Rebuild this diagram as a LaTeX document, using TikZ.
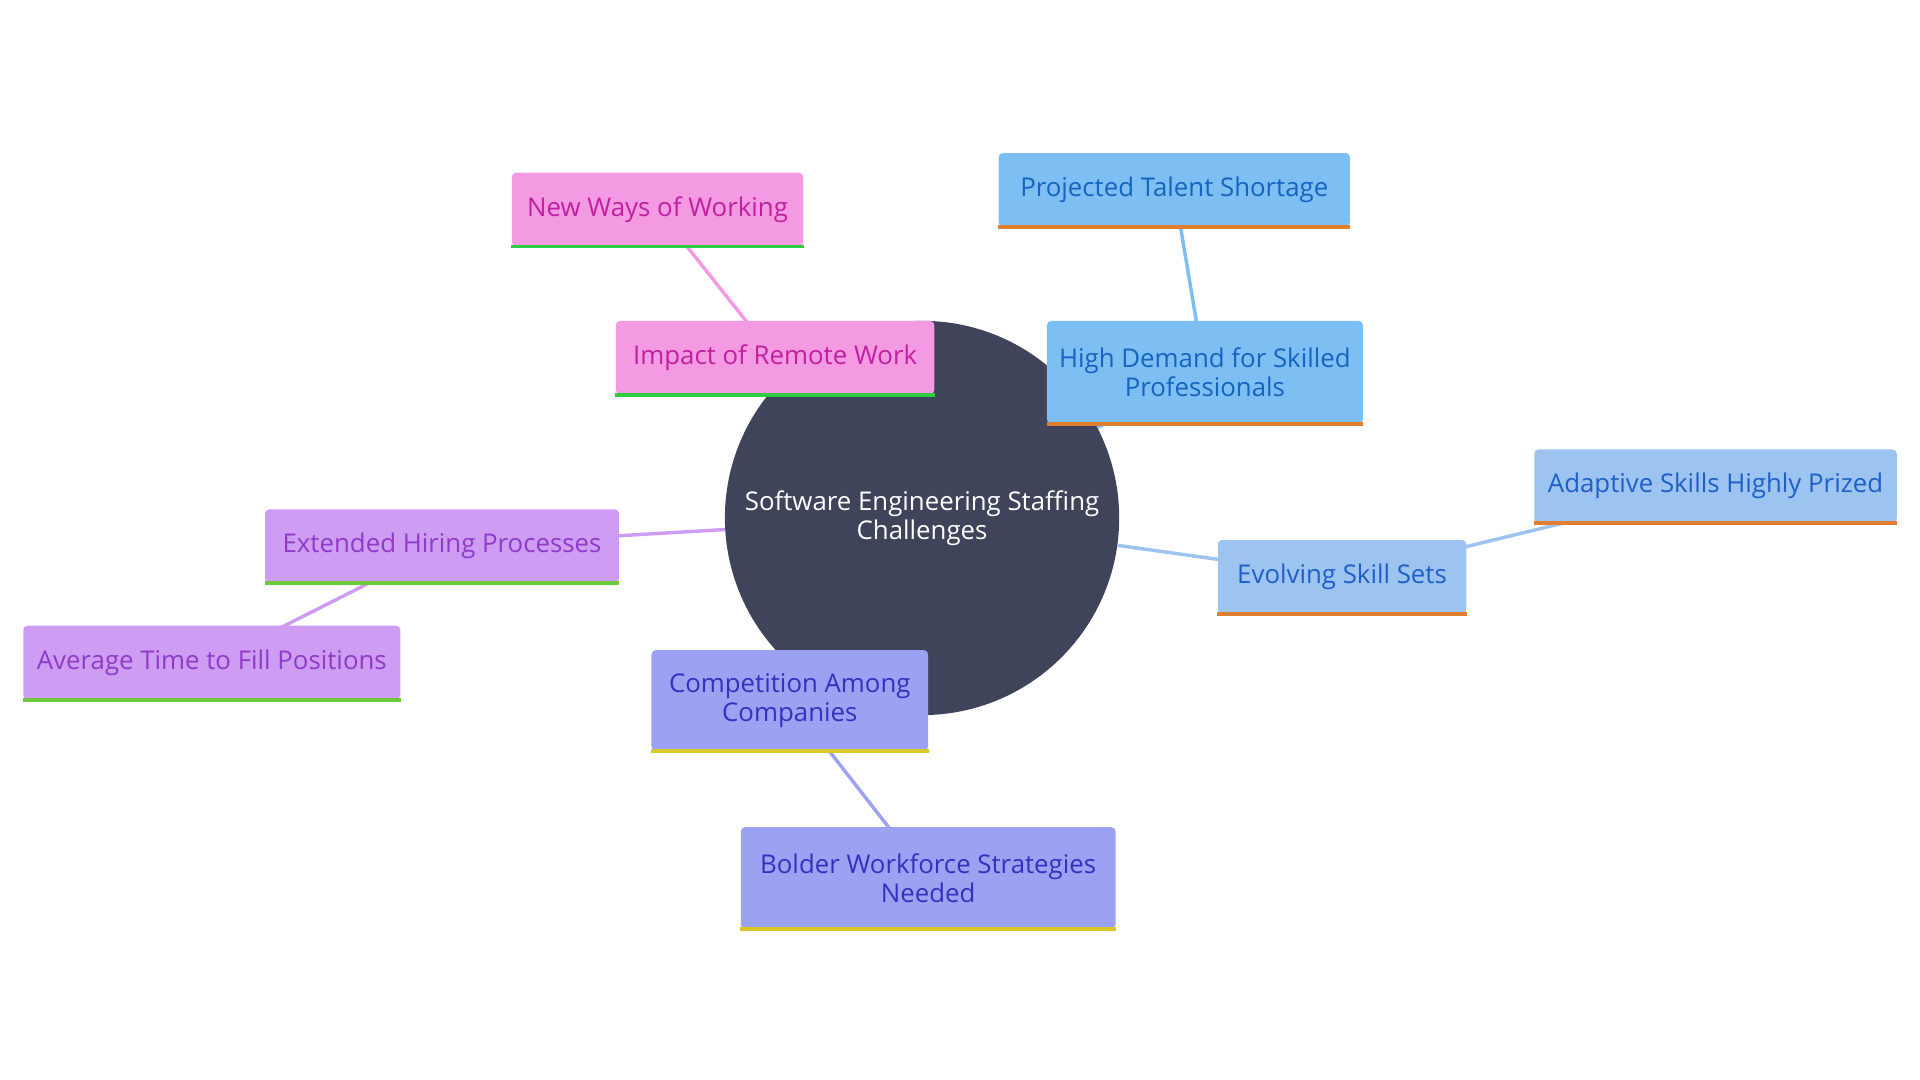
\documentclass[tikz,border=0pt]{standalone}
\usepackage{fontspec}
\setmainfont{Open Sans}
\definecolor{hub}{HTML}{40445A}
\definecolor{pinkf}{HTML}{F39AE3}\definecolor{pinkt}{HTML}{C0209F}\definecolor{pinkb}{HTML}{2ECC40}
\definecolor{bluef}{HTML}{7DBFF2}\definecolor{bluet}{HTML}{1565C0}\definecolor{orgb}{HTML}{E07F30}
\definecolor{lbluef}{HTML}{9DC3F0}\definecolor{lbluet}{HTML}{1E5FC8}
\definecolor{purpf}{HTML}{CE9CF2}\definecolor{purpt}{HTML}{8E3BC8}\definecolor{purpb}{HTML}{6DC93A}
\definecolor{perif}{HTML}{9BA2F2}\definecolor{perit}{HTML}{3530C0}\definecolor{perib}{HTML}{D8C82A}
\begin{document}
\begin{tikzpicture}[x=0.02cm,y=-0.02cm,
  box/.style={rectangle, rounded corners=2pt, fill=#1, inner sep=0pt, align=center,
    font=\fontsize{12}{13.5}\selectfont},
  link/.style={line width=1.6pt, #1},
  base/.style={line width=1.8pt, #1}]
	% Frame
	\useasboundingbox (0,0) rectangle (1568,882);
	
	% Hub
	\node[circle, fill=hub, minimum size=322*0.02cm, text=white, align=center,
	  font=\fontsize{12}{13.5}\selectfont] (hub) at (753,423)
	  {Software Engineering Staffing\\Challenges};
	
	% Coordinates of boxes
	\coordinate (cRemote) at (633,292);
	\coordinate (cWays) at (537,171);
	\coordinate (cDemand) at (984,304);
	\coordinate (cShort) at (959,155);
	\coordinate (cEvolve) at (1096,471);
	\coordinate (cAdapt) at (1401,397);
	\coordinate (cHire) at (361,446);
	\coordinate (cAvg) at (173,541);
	\coordinate (cComp) at (645,572);
	\coordinate (cBold) at (758,717);
	
	% Links
	\draw[link=pinkf] (hub) -- (cRemote);
	\draw[link=pinkf] (cRemote) -- (cWays);
	\draw[link=bluef] (hub) -- (cDemand);
	\draw[link=bluef] (cDemand) -- (cShort);
	\draw[link=lbluef] (hub) -- (cEvolve);
	\draw[link=lbluef] (cEvolve) -- (cAdapt);
	\draw[link=purpf] (hub) -- (cHire);
	\draw[link=purpf] (cHire) -- (cAvg);
	\draw[link=perif] (hub) -- (cComp);
	\draw[link=perif] (cComp) -- (cBold);
	
	% Boxes
	\node[box=pinkf, text=pinkt, minimum width=260*0.02cm, minimum height=60*0.02cm] (remote) at (cRemote) {Impact of Remote Work};
	\node[box=pinkf, text=pinkt, minimum width=238*0.02cm, minimum height=60*0.02cm] (ways) at (cWays) {New Ways of Working};
	\node[box=bluef, text=bluet, minimum width=258*0.02cm, minimum height=84*0.02cm] (demand) at (cDemand) {High Demand for Skilled\\Professionals};
	\node[box=bluef, text=bluet, minimum width=287*0.02cm, minimum height=60*0.02cm] (short) at (cShort) {Projected Talent Shortage};
	\node[box=lbluef, text=lbluet, minimum width=203*0.02cm, minimum height=60*0.02cm] (evolve) at (cEvolve) {Evolving Skill Sets};
	\node[box=lbluef, text=lbluet, minimum width=296*0.02cm, minimum height=60*0.02cm] (adapt) at (cAdapt) {Adaptive Skills Highly Prized};
	\node[box=purpf, text=purpt, minimum width=289*0.02cm, minimum height=60*0.02cm] (hire) at (cHire) {Extended Hiring Processes};
	\node[box=purpf, text=purpt, minimum width=308*0.02cm, minimum height=60*0.02cm] (avg) at (cAvg) {Average Time to Fill Positions};
	\node[box=perif, text=perit, minimum width=226*0.02cm, minimum height=82*0.02cm] (comp) at (cComp) {Competition Among\\Companies};
	\node[box=perif, text=perit, minimum width=306*0.02cm, minimum height=83*0.02cm] (bold) at (cBold) {Bolder Workforce Strategies\\Needed};
	
	% Bottom borders
	\foreach \n/\c in {remote/pinkb, ways/pinkb, demand/orgb, short/orgb, evolve/orgb, adapt/orgb,
	  hire/purpb, avg/purpb, comp/perib, bold/perib}
	  \draw[base=\c] (\n.south west) -- (\n.south east);
\end{tikzpicture}
\end{document}
